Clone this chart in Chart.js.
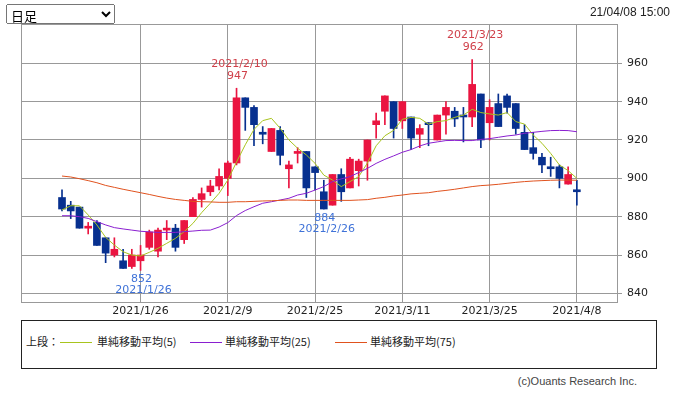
<!DOCTYPE html>
<html>
<head>
<meta charset="utf-8">
<script src="https://cdn.jsdelivr.net/npm/chart.js@4/dist/chart.umd.min.js"></script>
<style>
  body { margin: 0; background: #fff; font-family: "Noto Sans CJK JP", "DejaVu Sans", sans-serif; }
  #wrap { position: relative; width: 674px; height: 395px; overflow: hidden; }
  #term { position: absolute; left: 6px; top: 4px; width: 109px; height: 20px; font-size: 13px; font-family: "Noto Sans CJK JP", sans-serif; }
  #stamp { position: absolute; right: 4px; top: 5px; font-size: 12px; color: #222; font-family: "Liberation Sans", sans-serif; }
  #chartBox { position: absolute; left: 0; top: 0; width: 674px; height: 320px; }
  #legend { position: absolute; left: 21px; top: 320px; width: 634px; height: 47px; border: 1px solid #222; font-size: 11px; color: #222; }
  #legend span { position: absolute; top: 12px; white-space: nowrap; }
  #legend i { position: absolute; top: 21px; height: 1px; width: 32px; }
  #copy { position: absolute; right: 37px; top: 375px; font-size: 11px; color: #444; font-family: "Liberation Sans", sans-serif; }
</style>
</head>
<body>
<div id="wrap">
  <div id="chartBox"><canvas id="candleChart" width="674" height="320"></canvas></div>
  <select id="term"><option>日足</option></select>
  <div id="stamp">21/04/08 15:00</div>
  <div id="legend">
    <span style="left:4px">上段：</span>
    <i style="left:38px;background:#a8c41e"></i><span style="left:75px">単純移動平均(5)</span>
    <i style="left:168px;background:#8a1fd0"></i><span style="left:203px">単純移動平均(25)</span>
    <i style="left:313px;background:#e0521e"></i><span style="left:348px">単純移動平均(75)</span>
  </div>
  <div id="copy">(c)Ouants Research Inc.</div>
</div>
<script>
// trading days shown
const dates = [
  "2021/1/13", "2021/1/14", "2021/1/15", "2021/1/18", "2021/1/19", "2021/1/20", "2021/1/21", "2021/1/22", "2021/1/25", "2021/1/26",
  "2021/1/27", "2021/1/28", "2021/1/29", "2021/2/1", "2021/2/2", "2021/2/3", "2021/2/4", "2021/2/5", "2021/2/8", "2021/2/9",
  "2021/2/10", "2021/2/12", "2021/2/15", "2021/2/16", "2021/2/17", "2021/2/18", "2021/2/19", "2021/2/22", "2021/2/24", "2021/2/25",
  "2021/2/26", "2021/3/1", "2021/3/2", "2021/3/3", "2021/3/4", "2021/3/5", "2021/3/8", "2021/3/9", "2021/3/10", "2021/3/11",
  "2021/3/12", "2021/3/15", "2021/3/16", "2021/3/17", "2021/3/18", "2021/3/19", "2021/3/22", "2021/3/23", "2021/3/24", "2021/3/25",
  "2021/3/26", "2021/3/29", "2021/3/30", "2021/3/31", "2021/4/1", "2021/4/2", "2021/4/5", "2021/4/6", "2021/4/7", "2021/4/8"
]
const opens = [
  890, 886, 885, 874, 877, 869, 860, 857, 854, 857,
  864, 862, 873, 874, 868, 880, 889, 893, 896, 900,
  908, 942, 937, 924, 914, 925, 905, 913, 914, 906,
  893, 886, 902, 895, 904, 909, 928, 935, 940, 930,
  932, 923, 929, 920, 933, 935, 933, 932, 944, 929,
  939, 943, 939, 924, 916, 911, 906, 906, 897, 894
]
const highs = [
  894, 888, 885, 877, 878, 869, 869, 863, 863, 865,
  873, 874, 878, 876, 878, 890, 895, 899, 905, 909,
  947, 942, 938, 927, 926, 927, 909, 916, 914, 906,
  899, 902, 905, 911, 910, 920, 934, 943, 940, 940,
  932, 928, 929, 933, 940, 937, 937, 962, 944, 941,
  944, 944, 939, 928, 924, 913, 911, 907, 906, 899
]
const lows = [
  883, 879, 874, 871, 865, 856, 859, 853, 853, 852,
  863, 859, 868, 862, 866, 880, 885, 891, 894, 891,
  907, 925, 917, 918, 914, 907, 895, 908, 890, 894,
  884, 886, 888, 895, 896, 899, 921, 928, 921, 926,
  915, 916, 917, 920, 923, 927, 919, 927, 916, 920,
  927, 934, 923, 915, 910, 903, 901, 895, 897, 886
]
const closes = [
  884, 883, 874, 875, 865, 861, 863, 853, 860, 860,
  872, 873, 874, 864, 878, 889, 892, 896, 901, 908,
  942, 937, 928, 923, 926, 912, 907, 914, 895, 903,
  884, 902, 893, 910, 909, 920, 930, 943, 926, 940,
  921, 926, 928, 933, 937, 931, 932, 949, 920, 937,
  927, 937, 926, 915, 913, 907, 905, 900, 902, 893
]
// moving averages
const ma5 = [
  883.5, 885.7, 885.7, 880.9, 875.7, 869.2, 865.2, 861.7, 860.0, 859.5,
  861.4, 863.5, 866.1, 868.7, 872.2, 876.5, 882.1, 887.0, 892.2, 899.1,
  908.5, 917.5, 925.5, 930.1, 931.3, 926.1, 920.0, 915.7, 912.2, 907.8,
  901.7, 899.1, 895.7, 898.3, 900.9, 908.0, 917.0, 922.2, 925.0, 930.8,
  931.8, 931.3, 928.3, 929.6, 930.1, 931.8, 933.0, 936.0, 934.3, 933.6,
  933.0, 934.3, 929.6, 928.3, 922.6, 918.3, 913.0, 907.0, 904.0, 900.0
]
const ma25 = [
  880.5, 880.5, 880.0, 879.1, 877.4, 875.7, 874.3, 873.6, 873.0, 872.4,
  872.1, 871.8, 871.8, 871.8, 872.2, 872.5, 872.9, 873.0, 874.6, 876.9,
  880.6, 883.2, 885.2, 887.0, 887.8, 888.7, 889.6, 891.3, 892.2, 893.9,
  895.7, 898.3, 899.7, 900.9, 903.0, 905.2, 907.8, 909.9, 911.7, 913.6,
  915.0, 916.9, 918.3, 919.0, 919.7, 919.8, 919.7, 919.7, 920.3, 920.7,
  921.4, 922.1, 922.6, 923.5, 924.0, 924.5, 924.9, 925.0, 924.9, 924.3
]
const ma75 = [
  901.2, 900.7, 899.8, 898.8, 897.7, 896.3, 895.3, 894.3, 893.4, 892.5,
  891.6, 890.6, 889.7, 889.0, 888.5, 888.0, 887.8, 887.7, 887.5, 887.5,
  887.8, 887.8, 888.0, 888.2, 888.3, 888.5, 888.7, 888.7, 888.5, 888.5,
  888.5, 888.5, 888.5, 888.5, 888.7, 888.9, 889.6, 890.1, 890.8, 891.3,
  891.9, 892.2, 892.5, 893.2, 893.7, 894.3, 895.0, 895.7, 896.2, 896.5,
  896.9, 897.4, 897.9, 898.3, 898.6, 898.8, 899.0, 899.1, 899.1, 899.0
]
const tickDates = ["2021/1/26", "2021/2/9", "2021/2/25", "2021/3/11", "2021/3/25", "2021/4/8"]
const peakDates = ["2021/2/10", "2021/3/23"]
const troughDates = ["2021/1/26", "2021/2/26"]

const UP = "#ea1440"
const DOWN = "#07308f"
const candleColors = opens.map((o, i) => (closes[i] >= o ? UP : DOWN))

// frame around the plot
const framePlugin = {
  id: "frame",
  beforeDatasetsDraw(chart) {
    const { ctx, chartArea: a } = chart
    ctx.save()
    ctx.strokeStyle = "#999"
    ctx.lineWidth = 1
    ctx.strokeRect(Math.round(a.left) + 0.5, Math.round(a.top) + 0.5, Math.round(a.right - a.left), Math.round(a.bottom - a.top))
    ctx.restore()
  },
}

// high / low annotations
const markPlugin = {
  id: "marks",
  afterDatasetsDraw(chart) {
    const { ctx } = chart
    const xs = chart.scales.x
    const ys = chart.scales.y
    ctx.save()
    ctx.font = "11px 'DejaVu Sans'"
    ctx.textAlign = "center"
    ctx.textBaseline = "middle"
    ctx.fillStyle = "#d0404a"
    peakDates.forEach((d) => {
      const i = dates.indexOf(d)
      const x = xs.getPixelForValue(i)
      const y = ys.getPixelForValue(highs[i])
      ctx.fillText(String(highs[i]), x + 1, y - 12)
      ctx.fillText(d, x + 3, y - 24)
    })
    ctx.fillStyle = "#3f72d8"
    troughDates.forEach((d) => {
      const i = dates.indexOf(d)
      const x = xs.getPixelForValue(i)
      const y = ys.getPixelForValue(lows[i])
      ctx.fillText(String(lows[i]), x + 1, y + 9)
      ctx.fillText(d, x + 3, y + 20)
    })
    ctx.restore()
  },
}

const maLine = (values, color) => ({
  type: "line",
  data: values.map((v, i) => ({ x: i, y: v })),
  borderColor: color,
  borderWidth: 1,
  pointRadius: 0,
  tension: 0,
  fill: false,
  order: 0,
})

new Chart(document.getElementById("candleChart"), {
  type: "bar",
  data: {
    datasets: [
      maLine(ma75, "#e0521e"),
      maLine(ma25, "#8a1fd0"),
      maLine(ma5, "#a8c41e"),
      {
        // bodies
        data: dates.map((d, i) => ({ x: i, y: [opens[i], closes[i]] })),
        backgroundColor: candleColors,
        barThickness: 7,
        minBarLength: 2,
        grouped: false,
        order: 1,
      },
      {
        // wicks
        data: dates.map((d, i) => ({ x: i, y: [lows[i], highs[i]] })),
        backgroundColor: candleColors,
        barThickness: 1,
        grouped: false,
        order: 2,
      },
    ],
  },
  options: {
    responsive: false,
    animation: false,
    layout: { padding: { left: 21, top: 24, right: 0, bottom: 0 } },
    plugins: {
      legend: { display: false },
      tooltip: { enabled: false },
    },
    scales: {
      x: {
        type: "linear",
        min: -4.7,
        max: 63.6,
        offset: false,
        afterBuildTicks: (scale) => {
          scale.ticks = tickDates.map((d) => ({ value: dates.indexOf(d) }))
        },
        afterFit: (scale) => {
          scale.height = 18
        },
        ticks: {
          callback: (v) => dates[v],
          color: "#222",
          font: { family: "DejaVu Sans", size: 11 },
          padding: 3,
          maxRotation: 0,
          autoSkip: false,
        },
        grid: { color: "#999", offset: false, drawTicks: false, tickLength: 0 },
        border: { display: false },
      },
      y: {
        position: "right",
        min: 835.5,
        max: 980.5,
        afterBuildTicks: (scale) => {
          scale.ticks = scale.ticks.filter((t) => t.value >= 840 && t.value <= 960)
        },
        afterFit: (scale) => {
          scale.width = 57
        },
        ticks: {
          stepSize: 20,
          includeBounds: false,
          color: "#222",
          font: { family: "DejaVu Sans", size: 11 },
          padding: 5,
        },
        grid: { color: "#999", tickLength: 5 },
        border: { display: false },
      },
    },
  },
  plugins: [framePlugin, markPlugin],
})
</script>
</body>
</html>
